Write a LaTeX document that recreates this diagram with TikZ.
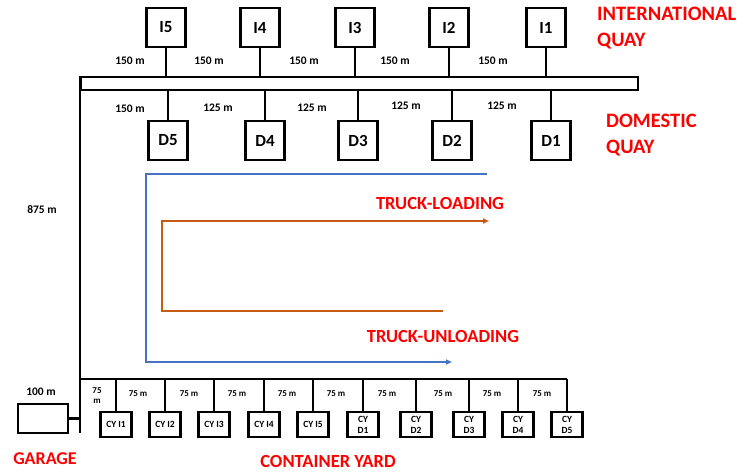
\documentclass[tikz,border=0pt]{standalone}
\usepackage{fontspec}
\setmainfont{Carlito}
\usetikzlibrary{arrows.meta}
\definecolor{tblue}{HTML}{4472C4}
\definecolor{torange}{HTML}{C55A11}
\tikzset{
  ln/.style={line width=2.2pt, black},
  qbox/.style={draw, line width=2.5pt, minimum width=39pt, minimum height=39pt, inner sep=0pt, font=\fontsize{17}{17}\selectfont\bfseries},
  cybox/.style={draw, line width=2.3pt, minimum width=31pt, minimum height=25pt, inner sep=0pt, align=center, font=\fontsize{9.5}{11}\selectfont\bfseries},
  dist/.style={font=\fontsize{11.5}{12}\selectfont\bfseries, inner sep=0pt},
  sdist/.style={font=\fontsize{9}{10}\selectfont\bfseries, inner sep=0pt, align=center},
  title/.style={text=red, font=\fontsize{20.5}{26}\selectfont\bfseries, inner sep=0pt, align=left},
  midtitle/.style={text=red, font=\fontsize{18.5}{20}\selectfont\bfseries, inner sep=0pt},
  path/.style={line width=2pt, -{Triangle[length=6pt,width=5pt]}},
}
\begin{document}
\begin{tikzpicture}[x=1pt,y=-1pt]
\useasboundingbox (0,0) rectangle (741,474);
% road
\node[draw, line width=2.2pt, minimum width=557pt, minimum height=13pt, inner sep=0pt, anchor=north west] (road) at (80,76) {};
% international quay
\foreach \n/\x in {I5/166,I4/260,I3/355,I2/449,I1/546}{
  \node[qbox] (\n) at (\x,27.5) {\n};
  \draw[ln] (\n.south) -- (\n.south |- road.north);
}
% domestic quay
\foreach \n/\x in {D5/168,D4/265,D3/358,D2/452,D1/551}{
  \node[qbox] (\n) at (\x,140.5) {\n};
  \draw[ln] (\n.north) -- (\n.north |- road.south);
}
% distances top
\foreach \x in {130,209,304,395,493}{ \node[dist] at (\x,61) {150 m}; }
\node[dist] at (130,109) {150 m};
\foreach \x/\y in {218/108,312/108,406/106,502/106}{ \node[dist] at (\x,\y) {125 m}; }
% left vertical road and bottom bar
\coordinate (lb) at (80,433);
\coordinate (bl) at (80,379);
\coordinate (br) at (567,379);
\draw[ln] (road.north west) -- (lb);
\draw[ln] (bl) -- (br);
% container yard boxes
\foreach \n/\x/\t in {c1/116/{CY I1},c2/165/{CY I2},c3/214/{CY I3},c4/264/{CY I4},c5/313/{CY I5},c6/363/{CY\\D1},c7/416/{CY\\D2},c8/469/{CY\\D3},c9/518/{CY\\D4},c10/567/{CY\\D5}}{
  \node[cybox] (\n) at (\x,424.5) {\t};
  \draw[ln] (\n.north) -- (\n.north |- br);
}
\node[sdist] at (97,396) {75\\m};
\foreach \x in {138,189,237,287,336,387,443,492,542}{ \node[sdist] at (\x,394) {75 m}; }
% garage
\node[draw, line width=2.3pt, minimum width=50pt, minimum height=29pt, inner sep=0pt] (garage) at (43,418.5) {};
\draw[ln] (garage.east) -- (garage.east -| lb);
\node[dist] (d875) at (42,210) {875 m};
\node[dist] (d100) at (41,392) {100 m};
% truck paths
\coordinate (b1) at (487,174);
\coordinate (b2) at (146,174);
\coordinate (b3) at (146,362);
\coordinate (b4) at (452,362);
\draw[path, tblue] (b1) -- (b2) -- (b3) -- (b4);
\coordinate (o1) at (443,311);
\coordinate (o2) at (162,311);
\coordinate (o3) at (162,221);
\coordinate (o4) at (489,221);
\draw[path, torange] (o1) -- (o2) -- (o3) -- (o4);
% titles
\node[title, anchor=west] (intl) at (597,28) {INTERNATIONAL\\QUAY};
\node[title, anchor=west] (dom) at (606,135) {DOMESTIC\\QUAY};
\node[midtitle] (tl) at (440,203) {TRUCK-LOADING};
\node[midtitle] (tu) at (443,336) {TRUCK-UNLOADING};
\node[title, font=\fontsize{18}{20}\selectfont\bfseries] (gar) at (45,459) {GARAGE};
\node[midtitle] (cy) at (328,461) {CONTAINER YARD};
\end{tikzpicture}
\end{document}
